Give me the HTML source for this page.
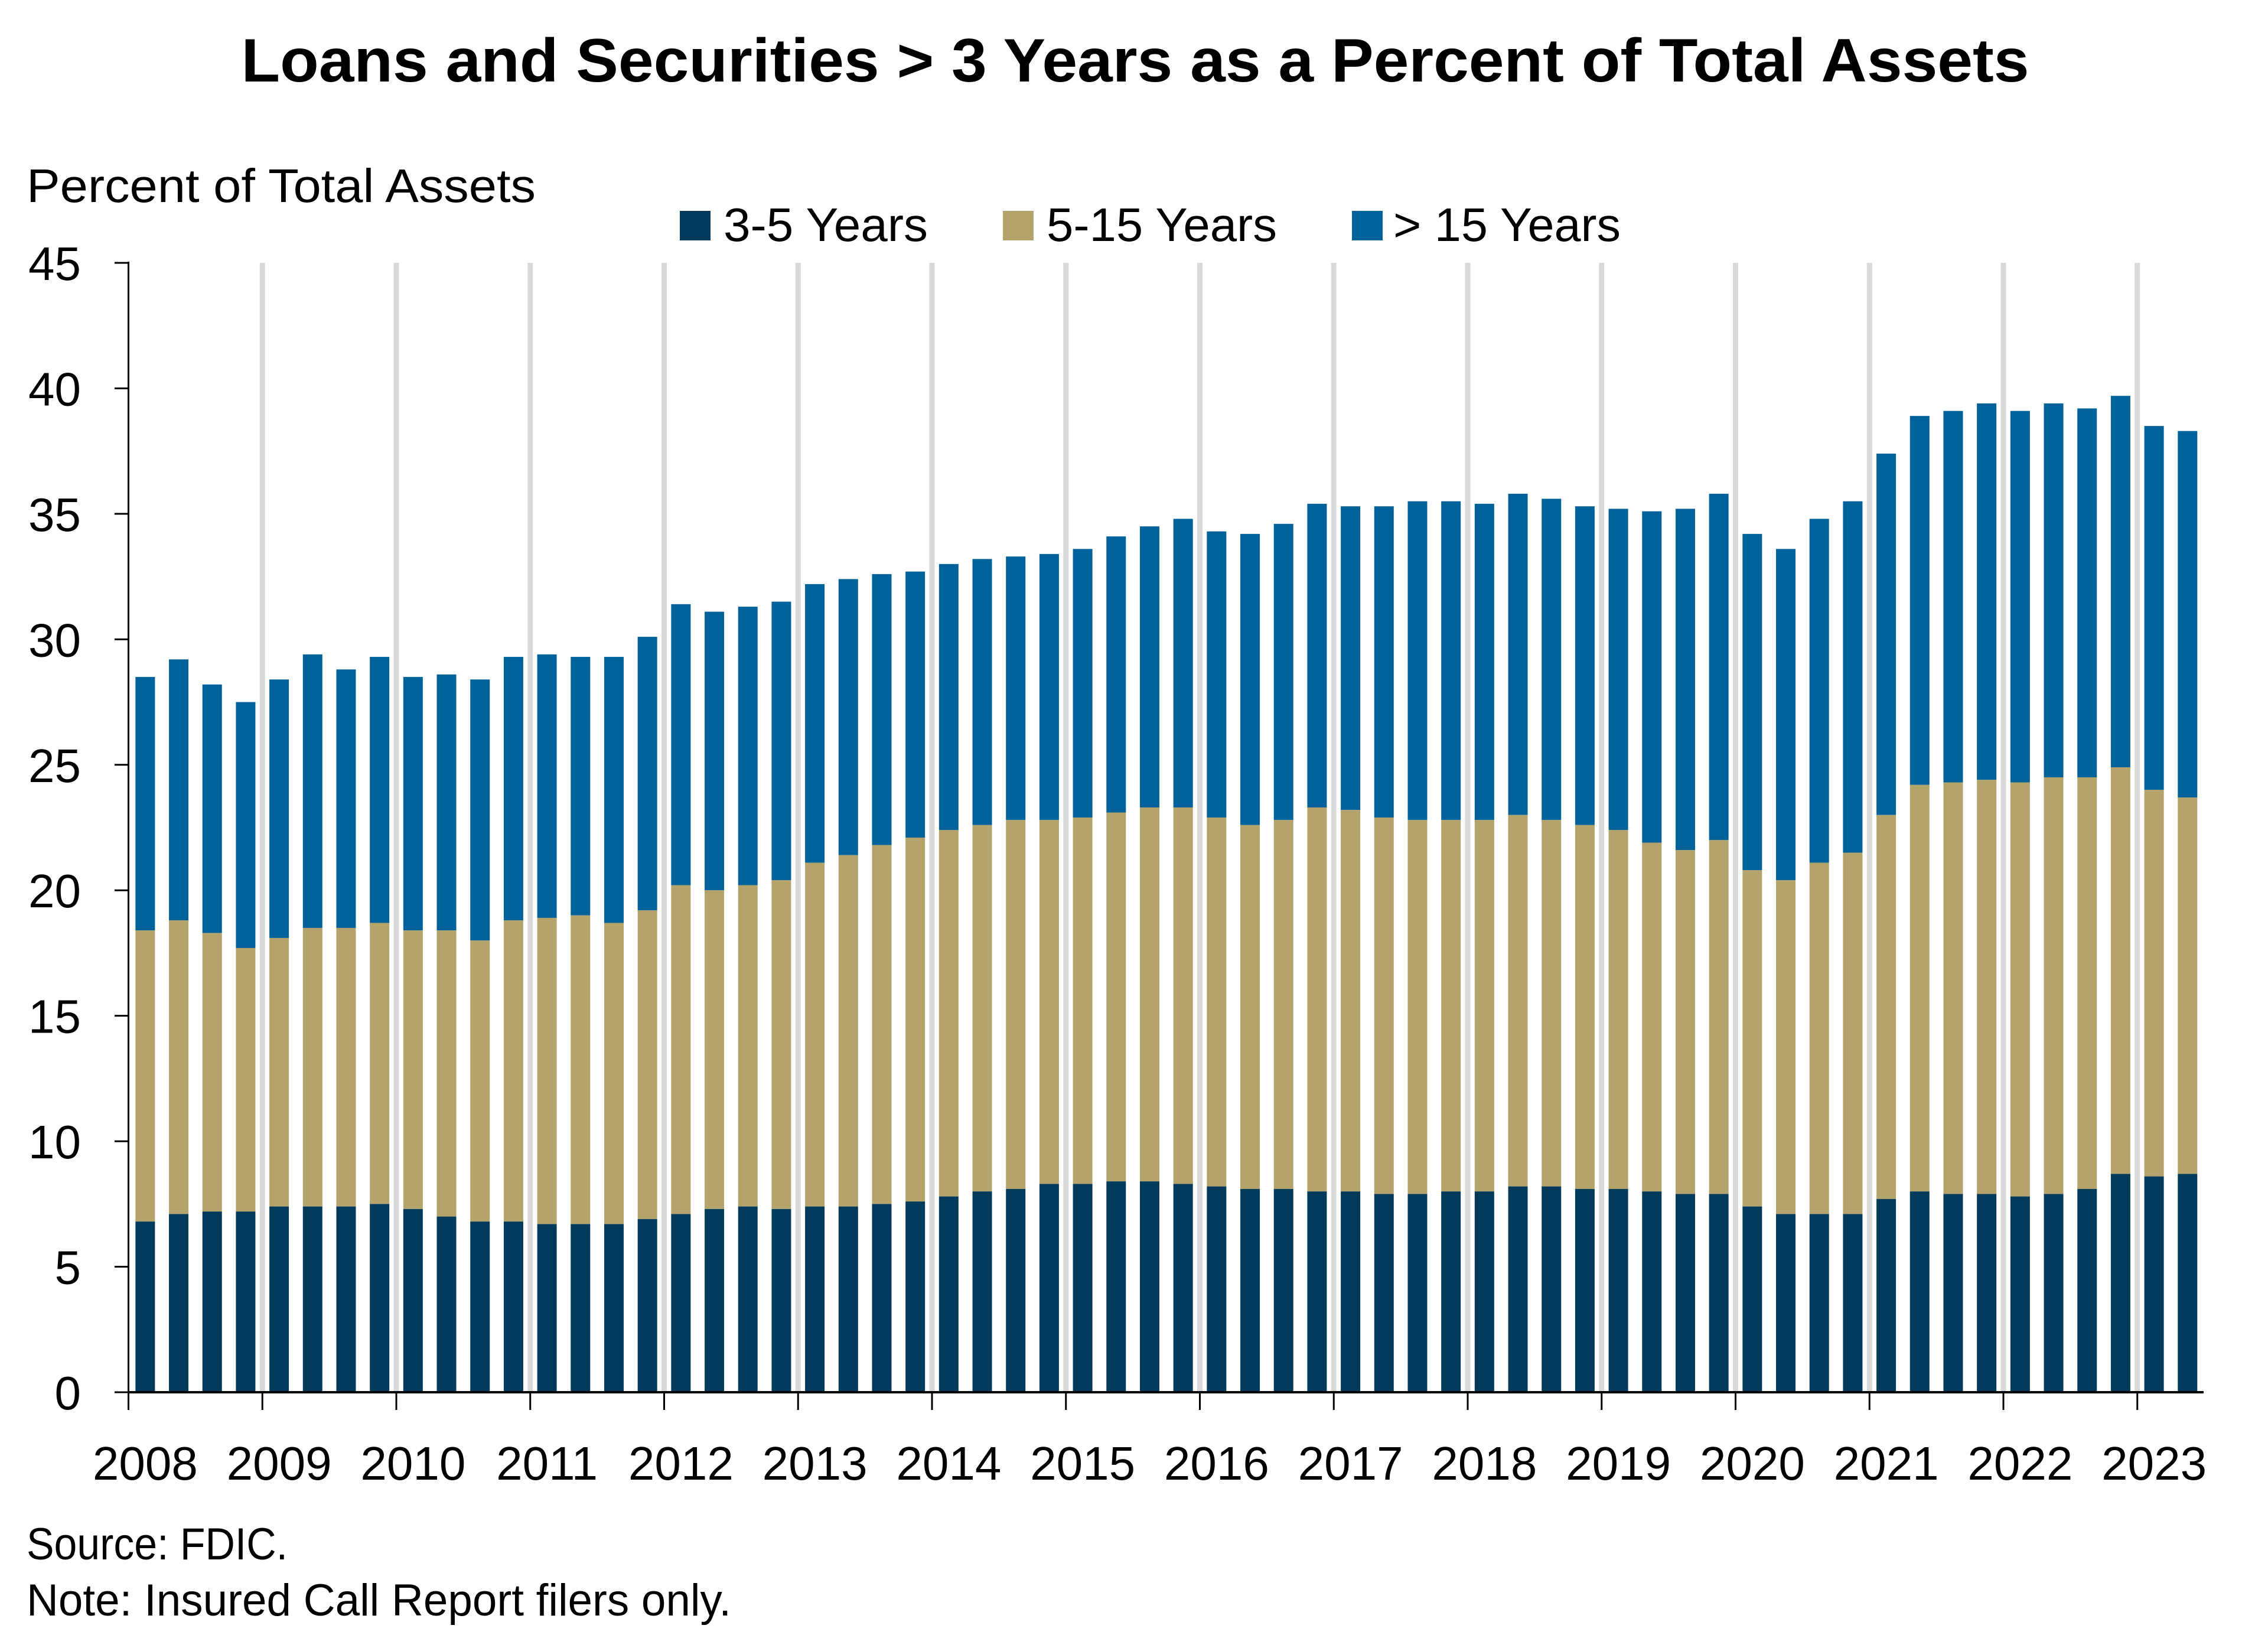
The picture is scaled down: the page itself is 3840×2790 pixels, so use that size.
<!DOCTYPE html>
<html><head><meta charset="utf-8"><style>
html,body{margin:0;padding:0;background:#fff;}
svg{display:block;}
text{font-family:"Liberation Sans",sans-serif;fill:#000;}
</style></head><body>
<svg id="c" xmlns="http://www.w3.org/2000/svg" width="3840" height="2790" viewBox="0 0 3840 2790">
<rect width="3840" height="2790" fill="#fff"/>
<text x="1922" y="138" text-anchor="middle" font-size="104" font-weight="bold" textLength="3027" lengthAdjust="spacingAndGlyphs">Loans and Securities &gt; 3 Years as a Percent of Total Assets</text>
<text x="45" y="342" font-size="80" textLength="862" lengthAdjust="spacingAndGlyphs">Percent of Total Assets</text>
<rect x="1151" y="357" width="52" height="50" fill="#023a5c"/>
<text x="1225" y="408" font-size="80" textLength="346" lengthAdjust="spacingAndGlyphs">3-5 Years</text>
<rect x="1698" y="357" width="52" height="50" fill="#b4a36a"/>
<text x="1772" y="408" font-size="80" textLength="390" lengthAdjust="spacingAndGlyphs">5-15 Years</text>
<rect x="2289" y="357" width="52" height="50" fill="#00629b"/>
<text x="2359" y="408" font-size="80" textLength="385" lengthAdjust="spacingAndGlyphs">&gt; 15 Years</text>
<g id="g"></g>
<text x="45" y="2640" font-size="76" textLength="442" lengthAdjust="spacingAndGlyphs">Source: FDIC.</text>
<text x="45" y="2735" font-size="76" textLength="1193" lengthAdjust="spacingAndGlyphs">Note: Insured Call Report filers only.</text>
</svg>
<script>
var d=[[6.8,18.4,28.5],[7.1,18.8,29.2],[7.2,18.3,28.2],[7.2,17.7,27.5],[7.4,18.1,28.4],[7.4,18.5,29.4],[7.4,18.5,28.8],[7.5,18.7,29.3],[7.3,18.4,28.5],[7.0,18.4,28.6],[6.8,18.0,28.4],[6.8,18.8,29.3],[6.7,18.9,29.4],[6.7,19.0,29.3],[6.7,18.7,29.3],[6.9,19.2,30.1],[7.1,20.2,31.4],[7.3,20.0,31.1],[7.4,20.2,31.3],[7.3,20.4,31.5],[7.4,21.1,32.2],[7.4,21.4,32.4],[7.5,21.8,32.6],[7.6,22.1,32.7],[7.8,22.4,33.0],[8.0,22.6,33.2],[8.1,22.8,33.3],[8.3,22.8,33.4],[8.3,22.9,33.6],[8.4,23.1,34.1],[8.4,23.3,34.5],[8.3,23.3,34.8],[8.2,22.9,34.3],[8.1,22.6,34.2],[8.1,22.8,34.6],[8.0,23.3,35.4],[8.0,23.2,35.3],[7.9,22.9,35.3],[7.9,22.8,35.5],[8.0,22.8,35.5],[8.0,22.8,35.4],[8.2,23.0,35.8],[8.2,22.8,35.6],[8.1,22.6,35.3],[8.1,22.4,35.2],[8.0,21.9,35.1],[7.9,21.6,35.2],[7.9,22.0,35.8],[7.4,20.8,34.2],[7.1,20.4,33.6],[7.1,21.1,34.8],[7.1,21.5,35.5],[7.7,23.0,37.4],[8.0,24.2,38.9],[7.9,24.3,39.1],[7.9,24.4,39.4],[7.8,24.3,39.1],[7.9,24.5,39.4],[8.1,24.5,39.2],[8.7,24.9,39.7],[8.6,24.0,38.5],[8.7,23.7,38.3]];
var y0=2357,u=1912/45,x0=217.5,Y=226.75,s="";
function Yv(v){return y0-v*u;}
for(var k=1;k<=15;k++){var gx=x0+k*Y;s+='<rect x="'+(gx-4.5)+'" y="445" width="9" height="'+(y0-445)+'" fill="#d9d9d9"/>';}
for(var i=0;i<d.length;i++){var cx=x0+Y/4*(i+0.5),x=cx-16.5,a=d[i];
s+='<rect x="'+x+'" y="'+Yv(a[2])+'" width="33" height="'+((a[2]-a[1])*u)+'" fill="#00629b"/>';
s+='<rect x="'+x+'" y="'+Yv(a[1])+'" width="33" height="'+((a[1]-a[0])*u)+'" fill="#b4a36a"/>';
s+='<rect x="'+x+'" y="'+Yv(a[0])+'" width="33" height="'+(a[0]*u)+'" fill="#023a5c"/>';}
s+='<line x1="'+x0+'" y1="443" x2="'+x0+'" y2="'+y0+'" stroke="#000" stroke-width="3"/>';
s+='<line x1="'+x0+'" y1="'+y0+'" x2="3731" y2="'+y0+'" stroke="#000" stroke-width="4"/>';
for(var v=0;v<=45;v+=5){var y=Yv(v);s+='<line x1="194" y1="'+y+'" x2="'+x0+'" y2="'+y+'" stroke="#000" stroke-width="3"/>';
s+='<text x="137" y="'+(y+29)+'" font-size="80" text-anchor="end">'+v+'</text>';}
for(var k=0;k<=15;k++){var gx=x0+k*Y;s+='<line x1="'+gx+'" y1="'+y0+'" x2="'+gx+'" y2="'+(y0+30)+'" stroke="#000" stroke-width="3"/>';
s+='<text x="'+(gx+Y/8)+'" y="2505" font-size="80" text-anchor="middle">'+(2008+k)+'</text>';}
document.getElementById('g').innerHTML=s;
</script>
</body></html>
